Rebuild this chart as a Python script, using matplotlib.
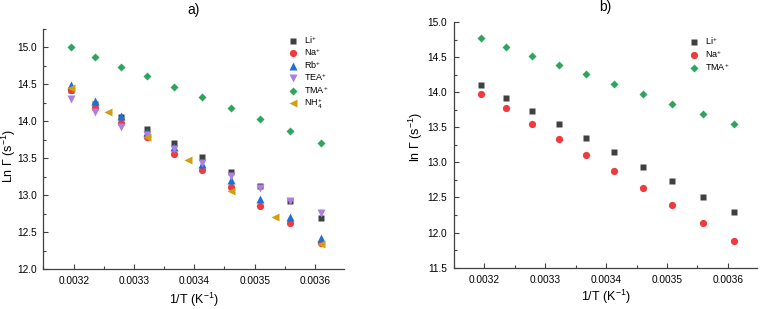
import numpy as np
import matplotlib
matplotlib.use('Agg')
import matplotlib.pyplot as plt
from matplotlib.ticker import MultipleLocator

plt.rcParams['font.family'] = ['Liberation Sans', 'DejaVu Sans']
plt.rcParams['mathtext.fontset'] = 'custom'
plt.rcParams['mathtext.rm'] = 'Liberation Sans'
plt.rcParams['mathtext.it'] = 'Liberation Sans:italic'

# 1/T 数据 (K^-1)
inv_T = [0.0031949, 0.0032362, 0.0032787, 0.0033223, 0.0033670,
         0.0034130, 0.0034602, 0.0035088, 0.0035587, 0.0036101]
inv_T_nh4 = [0.0031949, 0.0032573, 0.0033223, 0.0033898,
             0.0034602, 0.0035336, 0.0036101]

# 图a数据
a_li = [14.43, 14.24, 14.06, 13.89, 13.71, 13.52, 13.32, 13.13, 12.92, 12.69]
a_na = [14.42, 14.18, 13.98, 13.79, 13.56, 13.34, 13.11, 12.86, 12.62, 12.35]
a_rb = [14.49, 14.28, 14.07, 13.86, 13.65, 13.42, 13.20, 12.95, 12.70, 12.42]
a_tea = [14.30, 14.12, 13.92, 13.81, 13.62, 13.44, 13.26, 13.10, 12.92, 12.76]
a_tma = [15.00, 14.87, 14.74, 14.61, 14.47, 14.33, 14.18, 14.03, 13.87, 13.71]
a_nh4 = [14.45, 14.13, 13.79, 13.48, 13.06, 12.71, 12.34]

# 图b数据
b_li = [14.10, 13.92, 13.73, 13.54, 13.35, 13.15, 12.94, 12.73, 12.51, 12.29]
b_na = [13.98, 13.77, 13.55, 13.33, 13.11, 12.88, 12.64, 12.39, 12.14, 11.88]
b_tma = [14.77, 14.65, 14.52, 14.39, 14.26, 14.12, 13.98, 13.83, 13.69, 13.54]

c_li = '#404040'
c_na = '#F03A3E'
c_rb = '#1E6FD6'
c_tea = '#B07EE2'
c_tma = '#2EA45E'
c_nh4 = '#D29E12'

fig = plt.figure(figsize=(7.6, 3.09), dpi=100)
ax1 = fig.add_axes([0.0572, 0.1294, 0.3954, 0.7767])
ax2 = fig.add_axes([0.5974, 0.1337, 0.3987, 0.7951])


def style_axes(ax):
    for s in ['top', 'right']:
        ax.spines[s].set_visible(False)
    for s in ['left', 'bottom']:
        ax.spines[s].set_color('#404040')
        ax.spines[s].set_linewidth(0.9)
    ax.xaxis.set_major_locator(MultipleLocator(0.0001))
    ax.xaxis.set_minor_locator(MultipleLocator(0.00005))
    ax.yaxis.set_major_locator(MultipleLocator(0.5))
    ax.yaxis.set_minor_locator(MultipleLocator(0.25))
    ax.tick_params(which='major', direction='in', length=3.5, width=0.8,
                   color='#404040', labelsize=7.3, pad=5)
    ax.tick_params(which='minor', direction='in', length=2, width=0.8,
                   color='#404040')
    ax.xaxis.set_major_formatter(matplotlib.ticker.FormatStrFormatter('%.4f'))
    ax.yaxis.set_major_formatter(matplotlib.ticker.FormatStrFormatter('%.1f'))
    ax.set_xlim(0.00315, 0.003648)


# 图a
ax1.plot(inv_T, a_li, 's', color=c_li, ms=4.8, mec='none', label='Li$^{+}$')
ax1.plot(inv_T, a_na, 'o', color=c_na, ms=5.2, mec='none', label='Na$^{+}$')
ax1.plot(inv_T, a_rb, '^', color=c_rb, ms=5.6, mec='none', label='Rb$^{+}$')
ax1.plot(inv_T, a_tea, 'v', color=c_tea, ms=5.6, mec='none', label='TEA$^{+}$')
ax1.plot(inv_T, a_tma, 'D', color=c_tma, ms=4.5, mec='none', label='TMA$^{+}$')
ax1.plot(inv_T_nh4, a_nh4, '<', color=c_nh4, ms=5.6, mec='none', label='NH$_4^{+}$')
style_axes(ax1)
ax1.set_ylim(12.0, 15.25)
ax1.set_xlabel('1/T (K$^{-1}$)', fontsize=9)
ax1.set_ylabel('Ln Γ (s$^{-1}$)', fontsize=9)
ax1.xaxis.set_label_coords(0.5, -0.09)
ax1.yaxis.set_label_coords(-0.084, 0.47)
ax1.text(0.5, 1.079, 'a)', transform=ax1.transAxes, ha='center', va='center', fontsize=10)
ax1.legend(loc='upper left', bbox_to_anchor=(0.815, 0.979), frameon=False,
           fontsize=6.5, handlelength=1.0, handletextpad=0.7, labelspacing=0.09,
           borderpad=0, borderaxespad=0)

# 图b
ax2.plot(inv_T, b_li, 's', color=c_li, ms=4.8, mec='none', label='Li$^{+}$')
ax2.plot(inv_T, b_na, 'o', color=c_na, ms=5.2, mec='none', label='Na$^{+}$')
ax2.plot(inv_T, b_tma, 'D', color=c_tma, ms=4.5, mec='none', label='TMA$^{+}$')
style_axes(ax2)
ax2.set_ylim(11.5, 15.0)
ax2.set_xlabel('1/T (K$^{-1}$)', fontsize=9)
ax2.set_ylabel('ln Γ (s$^{-1}$)', fontsize=9)
ax2.xaxis.set_label_coords(0.5, -0.081)
ax2.yaxis.set_label_coords(-0.097, 0.53)
ax2.text(0.5, 1.06, 'b)', transform=ax2.transAxes, ha='center', va='center', fontsize=10)
ax2.legend(loc='upper left', bbox_to_anchor=(0.777, 0.944), frameon=False,
           fontsize=6.5, handlelength=1.0, handletextpad=0.7, labelspacing=0.1,
           borderpad=0, borderaxespad=0)

fig.savefig('out.png', dpi=100)
plt.close(fig)
